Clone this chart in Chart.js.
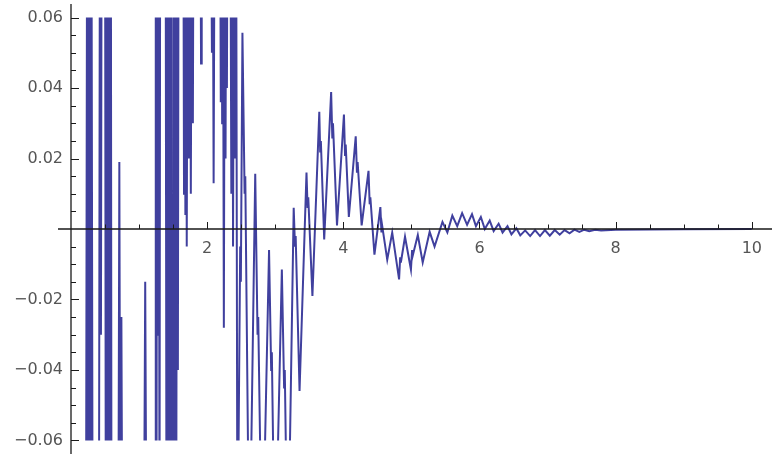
<!DOCTYPE html>
<html>
<head>
<meta charset="utf-8">
<script src="https://cdn.jsdelivr.net/npm/chart.js@4.4.1/dist/chart.umd.min.js"></script>
<style>
  html, body { margin: 0; padding: 0; background: #ffffff; }
  #wrap { width: 772px; height: 458px; position: relative; }
</style>
</head>
<body>
<div id="wrap"><canvas id="plot"></canvas></div>
<script>
// x positions of the curve's turning points
const xs = [
  0.00, 0.22, 0.237, 0.252, 0.268, 0.284, 0.30, 0.318, 0.41, 0.425,
  0.44, 0.45, 0.50, 0.512, 0.526, 0.54, 0.555, 0.57, 0.585, 0.595,
  0.695, 0.71, 0.725, 0.74, 0.755, 1.07, 1.09, 1.11, 1.235, 1.245,
  1.255, 1.265, 1.28, 1.29, 1.30, 1.31, 1.39, 1.403, 1.418, 1.432,
  1.447, 1.462, 1.475, 1.487, 1.50, 1.51, 1.52, 1.53, 1.545, 1.56,
  1.57, 1.58, 1.65, 1.66, 1.67, 1.68, 1.69, 1.70, 1.715, 1.73,
  1.745, 1.76, 1.775, 1.79, 1.80, 1.90, 1.91, 1.92, 2.055, 2.07,
  2.08, 2.095, 2.11, 2.19, 2.20, 2.21, 2.22, 2.23, 2.245, 2.26,
  2.27, 2.28, 2.29, 2.30, 2.34, 2.355, 2.37, 2.38, 2.395, 2.41,
  2.425, 2.445, 2.485, 2.495, 2.518, 2.55, 2.56, 2.62, 2.706, 2.74,
  2.75, 2.808, 2.909, 2.94, 2.95, 2.996, 3.097, 3.13, 3.14, 3.184,
  3.271, 3.29, 3.30, 3.357, 3.459, 3.475, 3.485, 3.546, 3.647, 3.66,
  3.67, 3.719, 3.821, 3.838, 3.848, 3.907, 4.009, 4.025, 4.035, 4.081,
  4.182, 4.20, 4.21, 4.269, 4.370, 4.387, 4.397, 4.457, 4.544, 4.56,
  4.57, 4.645, 4.718, 4.819, 4.835, 4.845, 4.906, 4.993, 5.01, 5.02,
  5.094, 5.166, 5.268, 5.340, 5.456, 5.528, 5.601, 5.673, 5.745, 5.818,
  5.890, 5.948, 6.020, 6.078, 6.150, 6.208, 6.281, 6.339, 6.411, 6.469,
  6.541, 6.599, 6.671, 6.744, 6.816, 6.889, 6.961, 7.033, 7.106, 7.178,
  7.250, 7.323, 7.395, 7.467, 7.540, 7.612, 7.699, 7.786, 8.0, 9.0,
  10.0
];

// y values at those points; +-0.1 means the curve leaves the plot range
const ys = [
  -0.1, -0.1, 0.1, -0.1, 0.1, -0.1, 0.1, -0.1, -0.1, 0.1,
  -0.03, 0.1, 0.1, -0.1, 0.1, -0.1, 0.1, -0.1, 0.1, -0.1,
  -0.1, 0.019, -0.1, -0.025, -0.1, -0.1, -0.015, -0.1, -0.1, 0.1,
  -0.1, 0.1, -0.03, 0.1, -0.1, 0.1, 0.1, -0.1, 0.1, -0.1,
  0.1, -0.1, 0.1, -0.1, -0.1, 0.1, -0.1, 0.1, -0.1, 0.1,
  -0.04, 0.1, 0.1, 0.01, 0.1, 0.004, 0.1, -0.005, 0.1, 0.02,
  0.1, 0.01, 0.1, 0.03, 0.1, 0.1, 0.047, 0.1, 0.1, 0.05,
  0.1, 0.013, 0.1, 0.1, 0.036, 0.1, 0.03, 0.1, -0.028, 0.1,
  0.02, 0.1, 0.04, 0.1, 0.1, 0.01, 0.1, -0.005, 0.1, 0.02,
  0.1, -0.1, -0.005, -0.015, 0.0557, 0.01, 0.015, -0.1, 0.0157, -0.03,
  -0.025, -0.1, -0.006, -0.04, -0.035, -0.1, -0.0115, -0.045, -0.04, -0.1,
  0.006, -0.005, -0.002, -0.046, 0.016, 0.006, 0.009, -0.019, 0.0333, 0.022,
  0.025, -0.003, 0.0389, 0.026, 0.03, 0.001, 0.0325, 0.021, 0.024, 0.0034,
  0.0263, 0.016, 0.019, 0.001, 0.0165, 0.007, 0.009, -0.0073, 0.0062, -0.001,
  0.001, -0.0087, -0.001, -0.0143, -0.008, -0.0095, -0.0022, -0.0115, -0.006, -0.0075,
  -0.0017, -0.0095, -0.0008, -0.005, 0.002, -0.001, 0.0038, 0.0008, 0.0045, 0.0012,
  0.0042, 0.0008, 0.0034, 0.0, 0.0024, -0.0006, 0.0015, -0.001, 0.0008, -0.0015,
  0.0002, -0.0018, -0.0004, -0.002, -0.0003, -0.002, -0.0003, -0.0019, -0.0003, -0.0016,
  -0.0003, -0.0012, -0.0002, -0.0008, -0.0002, -0.0006, -0.0002, -0.0004, -0.0002, -0.0001,
  0
];

// tick values
const xTicks = [2, 4, 6, 8, 10];
const yTicks = [-0.06, -0.04, -0.02, 0.02, 0.04, 0.06];

const points = xs.map((x, i) => ({ x: x, y: ys[i] }));

// draws the axes through the origin, with ticks pointing inward (Mathematica style)
const axesPlugin = {
  id: "axesThroughOrigin",
  afterDatasetsDraw(chart) {
    const ctx = chart.ctx;
    const sx = chart.scales.x;
    const sy = chart.scales.y;
    const x0 = sx.getPixelForValue(0);
    const y0 = sy.getPixelForValue(0);

    ctx.save();
    ctx.strokeStyle = "#1a1a1a";
    ctx.lineWidth = 1.3;

    ctx.beginPath();
    ctx.moveTo(x0 - 13, y0);
    ctx.lineTo(chart.width, y0);
    ctx.moveTo(x0, 4);
    ctx.lineTo(x0, 454);
    ctx.stroke();

    ctx.lineWidth = 1;
    ctx.beginPath();
    for (let k = 1; k <= 20; k++) {
      const v = k * 0.5;
      const len = xTicks.includes(v) ? 7 : 4.5;
      const px = Math.round(sx.getPixelForValue(v)) + 0.5;
      ctx.moveTo(px, y0);
      ctx.lineTo(px, y0 - len);
    }
    for (let k = -12; k <= 12; k++) {
      if (k === 0) continue;
      const v = k * 0.005;
      const len = (k % 4 === 0) ? 8 : 5;
      const py = Math.round(sy.getPixelForValue(v)) + 0.5;
      ctx.moveTo(x0, py);
      ctx.lineTo(x0 + len, py);
    }
    ctx.stroke();
    ctx.restore();
  }
};

function fmtY(v) {
  if (Math.abs(v) < 1e-9) return "";
  return (v < 0 ? "\u22120" : "0") + "." + Math.round(Math.abs(v) * 100).toString().padStart(2, "0");
}

const context = document.getElementById("plot").getContext("2d");
const chart = new Chart(context, {
  type: "line",
  data: {
    datasets: [{
      data: points,
      borderColor: "#40409e",
      borderWidth: 2,
      pointRadius: 0,
      tension: 0,
      fill: false
    }]
  },
  options: {
    responsive: true,
    maintainAspectRatio: false,
    animation: false,
    layout: { padding: { left: 0, right: 10, top: 15, bottom: 15 } },
    plugins: { legend: { display: false }, tooltip: { enabled: false } },
    scales: {
      x: {
        type: "linear",
        min: 0,
        max: 10,
        position: { y: 0 },
        grid: { display: false, drawTicks: false },
        border: { display: false },
        afterFit: (scale) => { scale.height = 0; },
        afterBuildTicks: (scale) => { scale.ticks = xTicks.map(v => ({ value: v })); },
        ticks: {
          autoSkip: false,
          maxRotation: 0,
          padding: 10,
          color: "#555555",
          font: { family: "DejaVu Sans", size: 16 },
          callback: (v) => String(v)
        }
      },
      y: {
        type: "linear",
        min: -0.06,
        max: 0.06,
        position: "left",
        grid: { display: false, drawTicks: false },
        border: { display: false },
        afterFit: (scale) => { scale.width = 71; },
        afterBuildTicks: (scale) => { scale.ticks = yTicks.map(v => ({ value: v })); },
        ticks: {
          padding: 8,
          color: "#555555",
          font: { family: "DejaVu Sans", size: 16 },
          callback: (v) => fmtY(v)
        }
      }
    }
  },
  plugins: [axesPlugin]
});
</script>
</body>
</html>
